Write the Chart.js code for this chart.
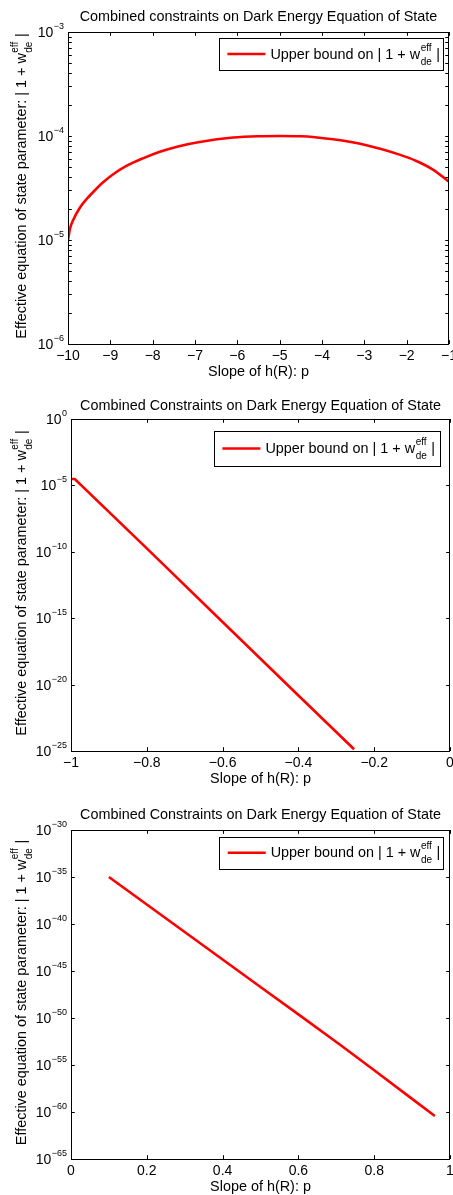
<!DOCTYPE html>
<html lang="en">
<head>
<meta charset="UTF-8">
<title>Combined Constraints on Dark Energy Equation of State</title>
<style>
    body { margin: 0; background: #fff; }
    canvas.panel { position: absolute; left: 0; display: block; }
</style>
<script src="https://cdn.jsdelivr.net/npm/chart.js"></script>
</head>
<body>
<canvas id="chart1" class="panel" width="453" height="390" style="top:0px"></canvas>
<canvas id="chart2" class="panel" width="453" height="400" style="top:390px"></canvas>
<canvas id="chart3" class="panel" width="453" height="405" style="top:790px"></canvas>
<script>
// --- panel 1: p in [-10, -1]
const p1 = [-10, -9.95, -9.88, -9.72, -9.57, -9.41, -9.17, -8.94, -8.62, -8.23, -7.83, -7.4, -6.89, -6.1, -5.5, -5.0, -4.5, -3.74, -2.95, -2.17, -1.77, -1.38, -1];
const bound1 = [1.0e-5, 1.3e-5, 1.55e-5, 2.04e-5, 2.45e-5, 2.88e-5, 3.59e-5, 4.27e-5, 5.15e-5, 6.1e-5, 7.05e-5, 7.94e-5, 8.75e-5, 9.66e-5, 9.95e-5, 1.0e-4, 9.95e-5, 9.29e-5, 8.15e-5, 6.62e-5, 5.75e-5, 4.75e-5, 3.63e-5];
const xTicks1 = [-10, -9, -8, -7, -6, -5, -4, -3, -2, -1];
const xTickLabels1 = ['−10', '−9', '−8', '−7', '−6', '−5', '−4', '−3', '−2', '−1'];
const yTicks1 = [1e-6, 1e-5, 1e-4, 1e-3];
const yTickExps1 = ['−6', '−5', '−4', '−3'];

// --- panel 2: p in [-1, 0]
const p2 = [-1, -0.99, -0.8, -0.6, -0.4, -0.253];
const bound2 = [3.0e-5, 3.0e-5, 1.8e-10, 5.2e-16, 1.5e-21, 1.35e-25];
const xTicks2 = [-1, -0.8, -0.6, -0.4, -0.2, 0];
const xTickLabels2 = ['−1', '−0.8', '−0.6', '−0.4', '−0.2', '0'];
const yTicks2 = [1e-25, 1e-20, 1e-15, 1e-10, 1e-5, 1];
const yTickExps2 = ['−25', '−20', '−15', '−10', '−5', '0'];

// --- panel 3: p in [0, 1]
const p3 = [0.1, 0.2, 0.3, 0.4, 0.5, 0.6, 0.7, 0.71, 0.8, 0.9, 0.96];
const bound3 = [1.0e-35, 1.2e-38, 1.4e-41, 1.7e-44, 2.0e-47, 2.4e-50, 2.8e-53, 1.4e-53, 2.8e-56, 2.5e-59, 3.8e-61];
const xTicks3 = [0, 0.2, 0.4, 0.6, 0.8, 1];
const xTickLabels3 = ['0', '0.2', '0.4', '0.6', '0.8', '1'];
const yTicks3 = [1e-65, 1e-60, 1e-55, 1e-50, 1e-45, 1e-40, 1e-35, 1e-30];
const yTickExps3 = ['−65', '−60', '−55', '−50', '−45', '−40', '−35', '−30'];

const FONT = '"Liberation Sans", Arial, Helvetica, sans-serif';
const font = px => px + 'px ' + FONT;

// text followed by w^eff_de and a closing bar
function effLabel(ctx, text, x, y, draw) {
    ctx.font = font(14.4);
    const w1 = ctx.measureText(text).width;
    ctx.font = font(10);
    const wMid = Math.max(ctx.measureText('eff').width, ctx.measureText('de').width) + 1;
    ctx.font = font(14.4);
    const w2 = ctx.measureText(' |').width;
    if (draw) {
        ctx.fillText(text, x, y);
        ctx.font = font(10);
        ctx.fillText('eff', x + w1 + 0.5, y - 8);
        ctx.fillText('de', x + w1 + 0.5, y + 6);
        ctx.font = font(14.4);
        ctx.fillText(' |', x + w1 + wMid, y);
    }
    return w1 + wMid + w2;
}

function framePlugin(cfg) {
    return {
        id: 'frame',
        afterDraw(chart) {
            const ctx = chart.ctx;
            const a = chart.chartArea;
            const xs = chart.scales.x, ys = chart.scales.y;
            const tl = 3.8;
            ctx.save();
            ctx.fillStyle = '#000';
            ctx.strokeStyle = '#000';
            ctx.lineWidth = 1;

            // inward ticks
            ctx.beginPath();
            cfg.xTicks.forEach(v => {
                const px = Math.round(xs.getPixelForValue(v)) + 0.5;
                ctx.moveTo(px, a.bottom); ctx.lineTo(px, a.bottom - tl);
                ctx.moveTo(px, a.top); ctx.lineTo(px, a.top + tl);
            });
            const yMarks = cfg.yTicks.slice();
            if (cfg.minor) {
                cfg.yTicks.slice(0, -1).forEach(d => {
                    for (let m = 2; m <= 9; m++) yMarks.push(d * m);
                });
            }
            yMarks.forEach(v => {
                const py = Math.round(ys.getPixelForValue(v)) + 0.5;
                ctx.moveTo(a.left, py); ctx.lineTo(a.left + tl, py);
                ctx.moveTo(a.right, py); ctx.lineTo(a.right - tl, py);
            });
            ctx.stroke();
            ctx.strokeRect(a.left + 0.5, a.top + 0.5, a.right - a.left - 1, a.bottom - a.top);

            // x tick labels
            ctx.font = font(14);
            ctx.textAlign = 'center';
            ctx.textBaseline = 'alphabetic';
            cfg.xTicks.forEach((v, i) => {
                ctx.fillText(cfg.xTickLabels[i], xs.getPixelForValue(v), a.bottom + 16);
            });

            // y tick labels 10^n
            ctx.textAlign = 'left';
            cfg.yTicks.forEach((v, i) => {
                const py = ys.getPixelForValue(v);
                ctx.font = font(14);
                const wb = ctx.measureText('10').width;
                ctx.font = font(9);
                const we = ctx.measureText(cfg.yTickExps[i]).width;
                const x0 = a.left - 4.5 - wb - we;
                ctx.font = font(14);
                ctx.fillText('10', x0, py + 5);
                ctx.font = font(9);
                ctx.fillText(cfg.yTickExps[i], x0 + wb + 0.5, py - 3);
            });

            // title and x axis title
            const cx = (a.left + a.right) / 2;
            ctx.font = font(14.4);
            ctx.textAlign = 'center';
            ctx.fillText(cfg.title, cx, cfg.titleY);
            ctx.fillText('Slope of h(R): p', cx, a.bottom + 32);

            // y axis title, rotated
            ctx.textAlign = 'left';
            ctx.save();
            ctx.translate(26, (a.top + a.bottom) / 2 - 2);
            ctx.rotate(-Math.PI / 2);
            const yt = 'Effective equation of state parameter: | 1 + w';
            const wt = effLabel(ctx, yt, 0, 0, false);
            effLabel(ctx, yt, -wt / 2, 0, true);
            ctx.restore();

            // legend box
            const lg = cfg.legend;
            const bx = a.right - lg.right - lg.w, by = a.top + lg.top;
            ctx.fillStyle = '#fff';
            ctx.fillRect(bx, by, lg.w, lg.h);
            ctx.strokeRect(Math.round(bx) + 0.5, Math.round(by) + 0.5, lg.w, lg.h);
            const cy = by + lg.h / 2;
            ctx.strokeStyle = '#ff0000';
            ctx.lineWidth = 2.5;
            ctx.beginPath();
            ctx.moveTo(bx + 8.4, cy); ctx.lineTo(bx + 46.4, cy);
            ctx.stroke();
            ctx.fillStyle = '#000';
            effLabel(ctx, 'Upper bound on | 1 + w', bx + 51.4, cy + 4.5, true);
            ctx.restore();
        }
    };
}

function makeChart(cfg) {
    const canvas = document.getElementById(cfg.id);
    const h = canvas.height;
    return new Chart(canvas, {
        type: 'line',
        data: {
            datasets: [{
                label: 'Upper bound',
                data: cfg.xs.map((x, i) => ({ x: x, y: cfg.ys[i] })),
                borderColor: '#ff0000',
                borderWidth: 2.6,
                pointRadius: 0,
                fill: false,
                cubicInterpolationMode: cfg.smooth ? 'monotone' : 'default',
                tension: 0
            }]
        },
        options: {
            responsive: false,
            animation: false,
            devicePixelRatio: 1,
            layout: { padding: { left: 0, top: cfg.area.t, right: 453 - cfg.area.r, bottom: 0 } },
            scales: {
                x: {
                    type: 'linear', min: cfg.xMin, max: cfg.xMax,
                    ticks: { display: false }, grid: { display: false }, border: { display: false },
                    afterFit: s => { s.height = h - cfg.area.b; }
                },
                y: {
                    type: 'logarithmic', min: cfg.yMin, max: cfg.yMax,
                    ticks: { display: false }, grid: { display: false }, border: { display: false },
                    afterFit: s => { s.width = cfg.area.l; }
                }
            },
            plugins: { legend: { display: false }, tooltip: { enabled: false } }
        },
        plugins: [framePlugin(cfg)]
    });
}

makeChart({
    id: 'chart1', area: { l: 68, r: 449, t: 32, b: 344 },
    xs: p1, ys: bound1, xMin: -10, xMax: -1, yMin: 1e-6, yMax: 1e-3,
    xTicks: xTicks1, xTickLabels: xTickLabels1, yTicks: yTicks1, yTickExps: yTickExps1,
    minor: true, smooth: true,
    title: 'Combined constraints on Dark Energy Equation of State', titleY: 21,
    legend: { right: 6, top: 6, w: 224, h: 32 }
});

makeChart({
    id: 'chart2', area: { l: 71, r: 450, t: 29, b: 361 },
    xs: p2, ys: bound2, xMin: -1, xMax: 0, yMin: 1e-25, yMax: 1,
    xTicks: xTicks2, xTickLabels: xTickLabels2, yTicks: yTicks2, yTickExps: yTickExps2,
    minor: false, smooth: false,
    title: 'Combined Constraints on Dark Energy Equation of State', titleY: 20,
    legend: { right: 10, top: 12, w: 226, h: 35 }
});

makeChart({
    id: 'chart3', area: { l: 71, r: 450, t: 40, b: 369 },
    xs: p3, ys: bound3, xMin: 0, xMax: 1, yMin: 1e-65, yMax: 1e-30,
    xTicks: xTicks3, xTickLabels: xTickLabels3, yTicks: yTicks3, yTickExps: yTickExps3,
    minor: false, smooth: false,
    title: 'Combined Constraints on Dark Energy Equation of State', titleY: 29,
    legend: { right: 6.7, top: 6.7, w: 224, h: 32 }
});
</script>
</body>
</html>
